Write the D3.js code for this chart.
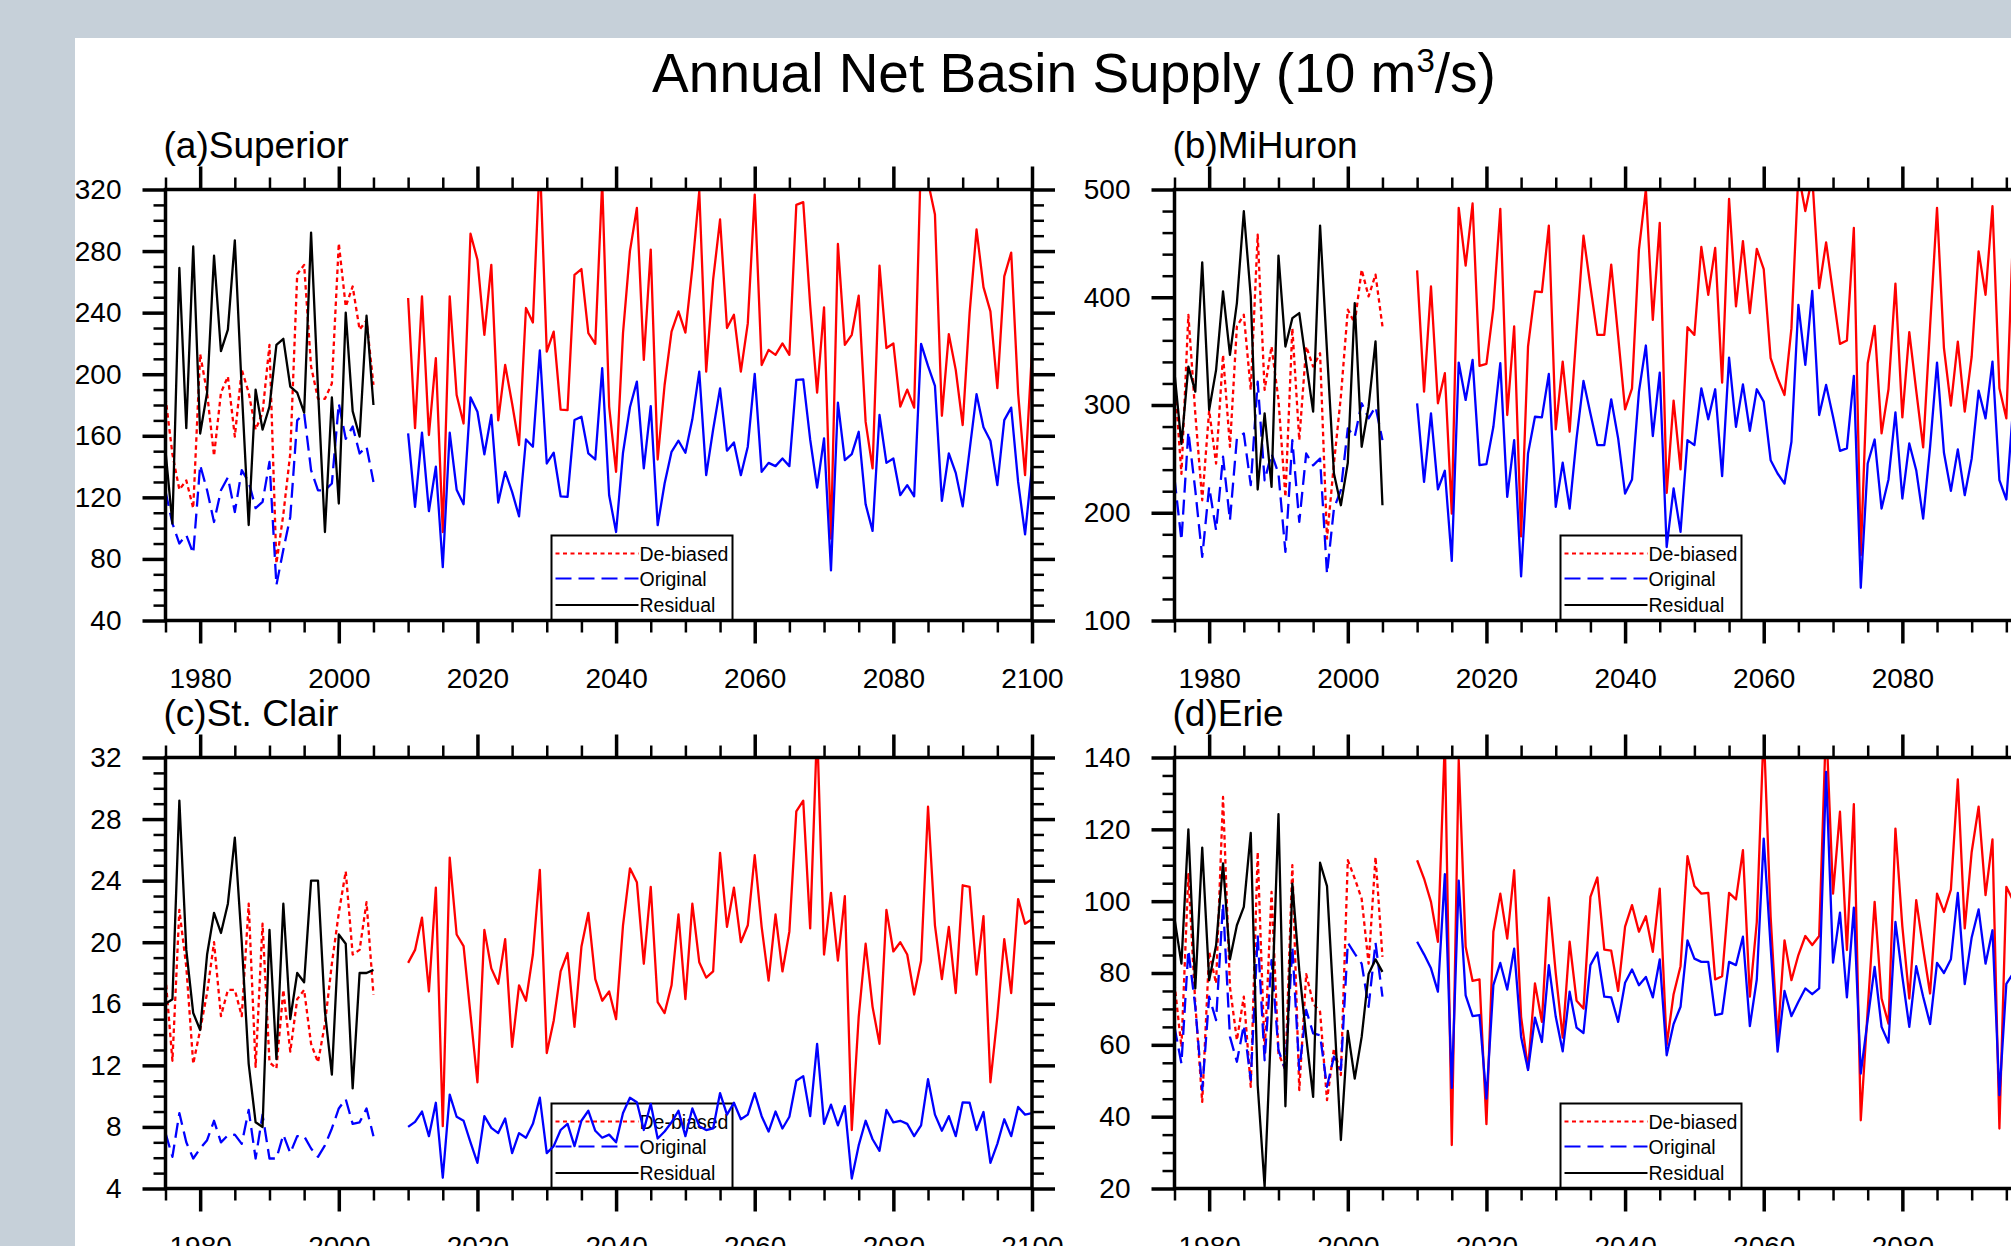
<!DOCTYPE html>
<html>
<head>
<meta charset="utf-8">
<script src="https://cdn.jsdelivr.net/npm/d3@7"></script>
<style>
  html, body { margin: 0; padding: 0; background: #c6d0d9; overflow: hidden; }
  svg { display: block; }
  text { font-family: "Liberation Sans", Arial, Helvetica, sans-serif; fill: #000; }
</style>
</head>
<body>
<svg id="chart" width="2011" height="1246"></svg>
<script>
// x categories
const histYears = d3.range(1975, 2006);
const futYears = d3.range(2010, 2101);

// (a) Superior
const supHistDeb = [185, 148, 125, 131, 113, 213, 188, 147, 188, 198.5, 159.5, 203, 188, 164, 175, 219, 77, 109, 148.5, 265, 271, 205, 184, 184, 194, 285, 244, 257, 229, 235, 193];
const supHistOrig = [124, 103, 90, 95.5, 83.5, 141, 124.6, 104, 124.6, 133, 110.5, 137.7, 130, 113, 117, 143, 63, 86, 107.3, 170, 174.6, 137.7, 124.6, 124.6, 129, 181, 158, 166, 148.5, 153, 130];
const supResidual = [150, 103, 269, 165, 283, 161.5, 188, 277, 215, 229, 287, 190, 102, 190, 164, 179, 219, 223, 192, 188, 175, 292, 190, 97.5, 185, 116, 240, 176, 159.5, 238, 180];
const supFutDeb = [249.5, 165, 250.6, 160.5, 210.4, 97.5, 250.6, 186.5, 168, 291.3,
  274.4, 225.6, 271, 170, 206, 181, 154, 243, 233.6, 340,
  214.7, 227.7, 177, 176.7, 264.6, 268.3, 226.7, 219.7, 325, 179,
  136.6, 226.7, 280, 308, 209.3, 281, 144.6, 193, 227.7, 240.8,
  227, 269, 319, 201.7, 261.4, 300.5, 230, 238.6, 201.7, 233,
  316.7, 206, 215.8, 212.6, 220, 212.6, 310, 311.8, 245, 188,
  243.4, 93.2, 284.6, 219, 225.6, 251, 169, 138.8, 270.5, 217,
  220, 179, 190, 178.3, 345, 325, 303.7, 173, 226, 202.8,
  167, 239.7, 294, 256.6, 240.8, 191, 263.6, 279, 187.6, 134.4, 215];
const supFutOrig = [161.5, 113.8, 162, 111, 140, 74.7, 162, 125, 115.5, 185,
  175.6, 148, 173.5, 116.6, 136.6, 123.6, 107.7, 157.6, 152.9, 215.4,
  142, 149, 120.7, 120.3, 170.2, 172.4, 148.5, 144.6, 203.9, 121.4,
  97.5, 149, 178.5, 195.2, 138.8, 179.3, 101.9, 129, 149.6, 156.8,
  149, 170.7, 201.7, 134.4, 164.1, 190.8, 150.3, 155.7, 134.4, 152.9,
  200.2, 136.6, 142.4, 140.3, 145.3, 140.3, 196.3, 196.7, 157.6, 126.4,
  158.3, 72.5, 181.5, 144.2, 148.1, 162.6, 115.5, 98.2, 173.5, 142.4,
  145.3, 121.4, 127.9, 120.7, 219.7, 205.4, 192.4, 117.7, 148.5, 135.9,
  114.2, 150.7, 187, 165.5, 156.8, 127.9, 170.2, 178.3, 130, 96, 140];

// (b) MiHuron
const mhHistDeb = [326, 236, 383.7, 292, 211.6, 295, 245.7, 346.5, 261.2, 372.9, 383.7, 314, 458, 314, 354.3, 304.7, 214.7, 371.3, 267.4, 354.3, 335.7, 348, 176, 245.7, 307.8, 388.4, 376, 425.6, 400.8, 421, 372.9];
const mhHistOrig = [231.8, 174.4, 275.2, 221, 159, 224, 183.7, 252, 193, 269, 273.6, 225.6, 321.7, 230, 255, 236.4, 163.6, 267.4, 191.5, 255, 244, 250.4, 143.4, 204, 221, 278.3, 270.5, 301.6, 287.6, 298.4, 267.4];
const mhResidual = [330, 264, 335.7, 312.4, 432.4, 295.3, 332.6, 405.4, 346.5, 394.6, 479.8, 400.8, 221.6, 292.2, 224, 438.6, 354.3, 380.6, 385.3, 338.8, 293.8, 466.5, 350, 236.4, 207, 246.4, 394.6, 261.2, 298.4, 359, 207];
const mhFutDeb = [425, 312.4, 410, 301.6, 329.5, 199.2, 483, 429.3, 487, 336.3,
  338.1, 390, 482, 290.7, 372.9, 178.1, 354.3, 405.4, 404.8, 466.5,
  277.4, 340.3, 275.2, 368.2, 457.2, 410, 365.1, 365.1, 430.2, 363.6,
  296, 315.5, 444.2, 500, 379, 469, 218.4, 304, 240.2, 372.2,
  365.1, 446.7, 402.3, 445.7, 320.8, 491.3, 391.5, 452, 385.3, 444.8,
  426.2, 343.4, 324.8, 309.3, 371.3, 515, 480, 512, 408.5, 451,
  403.9, 356.7, 359.8, 464.3, 160.5, 338.8, 373.5, 273.6, 314.6, 412.6,
  288.5, 367.6, 313.3, 260.6, 372.9, 483, 352.7, 299.4, 358.9, 293.8,
  345, 442.6, 402.3, 484.5, 315.5, 287.6, 466];
const mhFutOrig = [301.6, 228.7, 292.2, 221.6, 239, 155.3, 339.4, 304.7, 341.9, 244.2,
  245.1, 279.8, 338.8, 214.7, 267.4, 140.9, 255, 289.1, 288.5, 328.8,
  205.4, 246.4, 203.9, 269, 322.3, 292.2, 262.8, 262.8, 305.3, 269,
  217.8, 230.9, 312.4, 355.2, 271.2, 330.1, 168.2, 222.5, 182.2, 267.4,
  262.8, 315.5, 286.7, 314.6, 234, 344, 279.8, 319.2, 276.1, 314.6,
  303.1, 248.8, 236.4, 227.1, 265.9, 393, 337.2, 406, 290.7, 318.6,
  289.1, 257.5, 259.7, 327, 130.4, 245.7, 268, 203.9, 230.9, 293.2,
  213.2, 264.3, 239.5, 194.6, 261.2, 339.4, 255.7, 220.3, 258.8, 216.3,
  250.4, 313.3, 287.6, 340.3, 230.2, 212.3, 300];

// (c) St. Clair
const scHistDeb = [17.75, 12.3, 22.1, 18.4, 12.1, 14.3, 16.7, 20.0, 15.2, 16.9, 16.9, 15.2, 22.5, 11.9, 21.2, 12.2, 11.8, 16.9, 12.9, 16.3, 16.9, 13.4, 12.2, 14.7, 18.6, 21.9, 24.6, 19.2, 19.5, 22.6, 16.6];
const scHistOrig = [7.6, 6.06, 8.9, 7.0, 5.95, 6.6, 7.14, 8.4, 7.0, 7.46, 7.5, 6.9, 9.1, 5.95, 8.8, 5.95, 5.95, 7.5, 6.3, 7.4, 7.4, 6.6, 6.06, 6.8, 7.9, 9.2, 9.8, 8.2, 8.3, 9.2, 7.4];
const scResidual = [16.0, 16.3, 29.2, 19.5, 15.4, 14.3, 19.2, 21.9, 20.6, 22.5, 26.8, 20.0, 12.1, 8.3, 8.0, 20.8, 12.4, 22.5, 15.0, 18.0, 17.4, 24.0, 24.0, 15.5, 11.4, 20.5, 19.9, 10.5, 18.0, 18.0, 18.2];
const scFutDeb = [18.66, 19.5, 21.6, 16.8, 23.55, 8.05, 25.5, 20.5, 19.75, 15.3,
  10.9, 20.8, 18.3, 17.3, 20.2, 13.2, 17.2, 16.2, 19.2, 24.7,
  12.8, 14.9, 18.1, 19.3, 14.5, 19.7, 21.9, 17.6, 16.2, 16.8,
  15.0, 21.1, 24.8, 23.9, 18.6, 23.6, 16.1, 15.4, 17.2, 21.8,
  16.3, 22.5, 18.7, 17.7, 18.1, 25.8, 21.0, 23.55, 20.0, 21.1,
  25.65, 21.0, 17.5, 21.8, 18.1, 20.7, 28.5, 29.2, 20.9, 34,
  19.2, 23.2, 18.8, 23.0, 7.8, 15.15, 19.9, 15.8, 13.4, 22.1,
  19.4, 20.0, 19.2, 16.6, 18.8, 28.8, 21.1, 17.6, 21.0, 16.7,
  23.7, 23.6, 17.9, 21.7, 10.9, 15.15, 20.2, 16.7, 22.8, 21.2, 21.5];
const scFutOrig = [8.0, 8.33, 9.0, 7.4, 9.57, 4.7, 10.1, 8.66, 8.4, 7.0,
  5.67, 8.7, 7.94, 7.6, 8.55, 6.3, 7.6, 7.3, 8.2, 9.9,
  6.3, 6.75, 7.8, 8.2, 6.75, 8.4, 9.05, 7.75, 7.3, 7.5,
  7.0, 8.9, 9.9, 9.6, 7.8, 9.5, 7.25, 7.7, 8.3, 9.05,
  7.4, 9.2, 8.05, 7.8, 7.9, 10.2, 8.8, 9.57, 8.5, 8.8,
  10.2, 8.7, 7.7, 9.0, 7.9, 8.66, 11.0, 11.3, 8.7, 13.4,
  8.2, 9.45, 8.1, 9.35, 4.65, 6.8, 8.4, 7.2, 6.45, 9.1,
  8.3, 8.4, 8.2, 7.4, 8.1, 11.1, 8.8, 7.75, 8.7, 7.4,
  9.6, 9.57, 7.8, 8.97, 5.67, 6.9, 8.5, 7.4, 9.3, 8.8, 8.9];

// (d) Erie
const erHistDeb = [77, 59.4, 107.5, 71.5, 44.1, 85.9, 77.1, 129, 76.1, 61.3, 73.4, 48.3, 113.7, 57.6, 102.6, 57.6, 53, 110, 47.4, 79.7, 71.5, 69.2, 44.6, 59, 51.6, 111.4, 106.3, 100.7, 82.6, 112.3, 84.5];
const erHistOrig = [65, 54.8, 86.4, 70.6, 47.4, 73.4, 66.9, 99.4, 62.2, 55.3, 65.5, 50.2, 90.5, 55.7, 83.6, 58.5, 53, 87.3, 53, 69.7, 63.2, 62.7, 48.3, 56.7, 53, 88.4, 85.4, 82.6, 70.6, 88.4, 73.4];
const erResidual = [95.2, 82.6, 120, 75.7, 114.9, 78, 87.7, 110.5, 83.8, 93.3, 98.4, 119, 48.8, 20.5, 68, 124.2, 42.9, 104.9, 80.8, 62.2, 45.5, 110.7, 104.2, 70, 33.5, 63.9, 50.6, 62.2, 79.7, 83.8, 80.3];
const erFutDeb = [111.4, 106.3, 99.8, 88.7, 145, 32.1, 139.3, 87.3, 77.8, 78.2,
  37.9, 91.5, 102.1, 89.6, 108.6, 67.8, 53.4, 77.1, 66.4, 101,
  79.9, 62, 88.7, 72.3, 70.1, 101.2, 106.6, 86.5, 86.2, 75,
  92.9, 98.9, 91.5, 95.8, 85.9, 103.5, 59.9, 74.1, 81.9, 112.5,
  104.2, 102.1, 102.3, 78.2, 79.1, 102.3, 100.5, 114.2, 73.4, 94.2,
  148, 95.6, 61.5, 89.1, 78, 85, 90.3, 87.8, 90.3, 150,
  102.1, 124.9, 86.4, 127, 39, 69.7, 99.8, 72.9, 65.9, 120.2,
  92.9, 72.9, 100.3, 86.8, 74.3, 102.1, 97, 103.2, 133.9, 92.4,
  113.7, 126.3, 101.7, 117.2, 36.7, 104, 100];
const erFutOrig = [88.7, 85.2, 81.3, 74.8, 107.5, 48, 105.7, 73.8, 68, 68.3,
  45, 76.6, 82.8, 75.4, 86.8, 62.2, 53, 67.6, 60.8, 82.2,
  67.8, 58.2, 74.8, 64.8, 63.3, 82.2, 85.7, 73.4, 73.2, 66.4,
  77.3, 81, 76.6, 78.9, 73.2, 83.8, 57.1, 65.8, 70.6, 89.1,
  84, 83.1, 83.1, 68.3, 68.7, 83.1, 82.2, 90.1, 65.2, 78.2,
  117.4, 87.3, 58.1, 75, 68, 72, 75.7, 74.1, 75.7, 136,
  82.9, 96.8, 73.2, 98.2, 52, 67, 81.7, 65, 60.6, 94.2,
  78.9, 65, 81.9, 73.4, 65.8, 82.8, 80, 83.8, 102.3, 76.9,
  89.9, 97.7, 82.6, 91.9, 46, 77, 80];

const legendLabels = ['De-biased', 'Original', 'Residual'];

const panels = [
    { label: '(a)Superior', left: 165.5, top: 189.5, yDomain: [40, 320], major: 40, minor: 10,
      histDeb: supHistDeb, histOrig: supHistOrig, residual: supResidual, futDeb: supFutDeb, futOrig: supFutOrig },
    { label: '(b)MiHuron', left: 1174.5, top: 189.5, yDomain: [100, 500], major: 100, minor: 20,
      histDeb: mhHistDeb, histOrig: mhHistOrig, residual: mhResidual, futDeb: mhFutDeb, futOrig: mhFutOrig },
    { label: '(c)St. Clair', left: 165.5, top: 757.5, yDomain: [4, 32], major: 4, minor: 1,
      histDeb: scHistDeb, histOrig: scHistOrig, residual: scResidual, futDeb: scFutDeb, futOrig: scFutOrig },
    { label: '(d)Erie', left: 1174.5, top: 757.5, yDomain: [20, 140], major: 20, minor: 5,
      histDeb: erHistDeb, histOrig: erHistOrig, residual: erResidual, futDeb: erFutDeb, futOrig: erFutOrig }
];

const panelW = 866.5;
const panelH = 431;
const majorLen = 23;
const minorLen = 12;
const fontFamily = '"Liberation Sans", Arial, Helvetica, sans-serif';

const svg = d3.select('#chart');

// page
svg.append('rect')
    .attr('x', 75).attr('y', 38)
    .attr('width', 2011 - 75).attr('height', 1246 - 38)
    .attr('fill', '#ffffff');

const title = svg.append('text')
    .attr('x', 1074)
    .attr('y', 92)
    .attr('text-anchor', 'middle')
    .attr('font-size', 55);
title.append('tspan').text('Annual Net Basin Supply (10 m');
title.append('tspan').attr('font-size', 33).attr('dy', -20).text('3');
title.append('tspan').attr('font-size', 55).attr('dy', 20).text('/s)');

function zip(years, values) {
    return values.map((v, i) => [years[i], v]);
}

panels.forEach((p, pi) => {
    const g = svg.append('g').attr('transform', 'translate(' + p.left + ',' + p.top + ')');
    const x = d3.scaleLinear().domain([1975, 2100]).range([0, panelW]);
    const y = d3.scaleLinear().domain(p.yDomain).range([panelH, 0]);

    const clipId = 'clip' + pi;
    g.append('clipPath').attr('id', clipId)
        .append('rect').attr('width', panelW).attr('height', panelH);

    const xMajor = d3.range(1980, 2101, 20);
    const xMinor = d3.range(1975, 2101, 5).filter(d => xMajor.indexOf(d) < 0);
    const yMajor = d3.range(p.yDomain[0], p.yDomain[1] + 0.001, p.major);
    const yMinor = d3.range(p.yDomain[0], p.yDomain[1] + 0.001, p.minor)
        .filter(d => yMajor.every(m => Math.abs(m - d) > 1e-6));

    // legend (lines are drawn over it)
    const lg = g.append('g').attr('transform', 'translate(386,' + (panelH - 85) + ')');
    lg.append('rect')
        .attr('width', 181).attr('height', 85)
        .attr('fill', 'none').attr('stroke', '#000').attr('stroke-width', 2);
    const legendStyles = [
        { color: '#ff0000', dash: '4,3.5' },
        { color: '#0000ff', dash: '16,7' },
        { color: '#000000', dash: null }
    ];
    const rowY = [18, 43, 69.5];
    legendStyles.forEach((s, i) => {
        lg.append('line')
            .attr('x1', 4).attr('x2', 87)
            .attr('y1', rowY[i]).attr('y2', rowY[i])
            .attr('stroke', s.color).attr('stroke-width', 2)
            .attr('stroke-dasharray', s.dash);
        lg.append('text')
            .attr('x', 88).attr('y', rowY[i])
            .attr('dy', '0.36em')
            .attr('font-size', 19.5)
            .text(legendLabels[i]);
    });

    const line = d3.line().x(d => x(d[0])).y(d => y(d[1]));
    const lines = g.append('g').attr('clip-path', 'url(#' + clipId + ')');
    const series = [
        { data: zip(histYears, p.histDeb), color: '#ff0000', dash: '4.5,3.5' },
        { data: zip(histYears, p.histOrig), color: '#0000ff', dash: '15,7' },
        { data: zip(histYears, p.residual), color: '#000000', dash: null },
        { data: zip(futYears, p.futDeb), color: '#ff0000', dash: null },
        { data: zip(futYears, p.futOrig), color: '#0000ff', dash: null }
    ];
    series.forEach(s => {
        lines.append('path')
            .datum(s.data)
            .attr('d', line)
            .attr('fill', 'none')
            .attr('stroke', s.color)
            .attr('stroke-width', 2.3)
            .attr('stroke-linejoin', 'round')
            .attr('stroke-dasharray', s.dash);
    });

    // axes: major ticks with labels, minor ticks without
    function styleAxis(sel, width) {
        sel.select('.domain').remove();
        sel.selectAll('.tick line').attr('stroke', '#000').attr('stroke-width', width);
        sel.attr('font-family', fontFamily).attr('font-size', 28);
        sel.selectAll('.tick text').attr('fill', '#000');
    }
    const bottom = g.append('g').attr('transform', 'translate(0,' + panelH + ')');
    bottom.append('g').call(d3.axisBottom(x).tickValues(xMinor).tickSize(minorLen).tickFormat('')).call(styleAxis, 2.5);
    bottom.append('g').call(d3.axisBottom(x).tickValues(xMajor).tickSize(majorLen).tickPadding(25).tickFormat(d3.format('d'))).call(styleAxis, 3.5);

    g.append('g').call(d3.axisTop(x).tickValues(xMinor).tickSize(minorLen).tickFormat('')).call(styleAxis, 2.5);
    g.append('g').call(d3.axisTop(x).tickValues(xMajor).tickSize(majorLen).tickFormat('')).call(styleAxis, 3.5);

    g.append('g').call(d3.axisLeft(y).tickValues(yMinor).tickSize(minorLen).tickFormat('')).call(styleAxis, 2.5);
    g.append('g').call(d3.axisLeft(y).tickValues(yMajor).tickSize(majorLen).tickPadding(21).tickFormat(d3.format('d'))).call(styleAxis, 3.5);

    const right = g.append('g').attr('transform', 'translate(' + panelW + ',0)');
    right.append('g').call(d3.axisRight(y).tickValues(yMinor).tickSize(minorLen).tickFormat('')).call(styleAxis, 2.5);
    right.append('g').call(d3.axisRight(y).tickValues(yMajor).tickSize(majorLen).tickFormat('')).call(styleAxis, 3.5);

    g.append('rect')
        .attr('width', panelW).attr('height', panelH)
        .attr('fill', 'none').attr('stroke', '#000').attr('stroke-width', 3.5);

    g.append('text')
        .attr('x', -2).attr('y', -32)
        .attr('font-size', 37)
        .text(p.label);
});
</script>
</body>
</html>
